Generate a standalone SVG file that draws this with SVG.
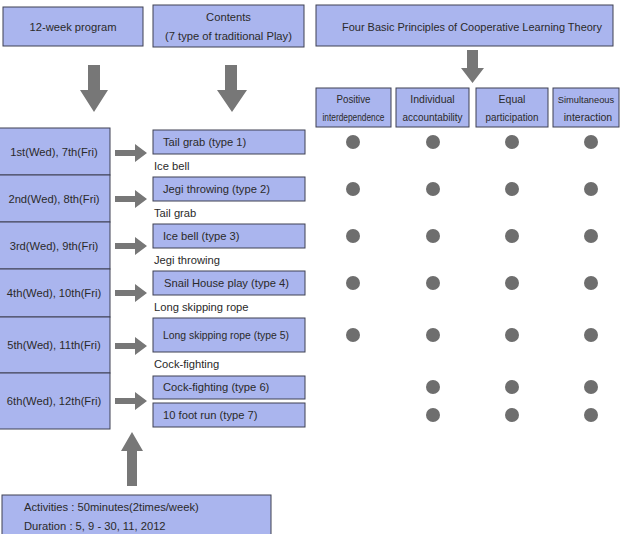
<svg xmlns="http://www.w3.org/2000/svg" width="620" height="534" viewBox="0 0 620 534">
<defs>
<style>
.box{fill:#aab5ee;stroke:#3f4152;stroke-width:1}
.t{font-family:"Liberation Sans",Arial,sans-serif;font-size:11.2px;fill:#2a2a2a}
.s{font-family:"Liberation Sans",Arial,sans-serif;font-size:10.5px;fill:#2a2a2a}
.c{text-anchor:middle}
.arr{fill:#777777}
.dot{fill:#6e6e6e}
</style>
</defs>
<rect width="620" height="534" fill="#ffffff"/>

<g id="program"><rect class="box" x="3" y="7" width="140" height="39"/><text class="t c" x="73" y="31">12-week program</text></g>
<g id="contents"><rect class="box" x="153" y="5" width="151" height="42"/><text class="t c" x="228.5" y="21">Contents</text><text class="t c" x="228.5" y="40">(7 type of traditional Play)</text></g>
<g id="principles"><rect class="box" x="316" y="5" width="297" height="41"/><text class="t c" x="472" y="31" textLength="260" lengthAdjust="spacingAndGlyphs">Four Basic Principles of Cooperative Learning Theory</text></g>

<g id="p1"><rect class="box" x="316" y="88" width="75" height="39"/><text class="s c" x="353.5" y="103" textLength="34" lengthAdjust="spacingAndGlyphs">Positive</text><text class="s c" x="353.5" y="121" textLength="62" lengthAdjust="spacingAndGlyphs">interdependence</text></g>
<g id="p2"><rect class="box" x="396" y="88" width="73" height="39"/><text class="s c" x="432.5" y="103">Individual</text><text class="s c" x="432.5" y="121" textLength="60" lengthAdjust="spacingAndGlyphs">accountability</text></g>
<g id="p3"><rect class="box" x="476" y="88" width="72" height="39"/><text class="s c" x="512" y="103">Equal</text><text class="s c" x="512" y="121" textLength="53" lengthAdjust="spacingAndGlyphs">participation</text></g>
<g id="p4"><rect class="box" x="553" y="88" width="66" height="39"/><text class="s c" x="586" y="103" style="font-size:9.3px">Simultaneous</text><text class="s c" x="588" y="121">interaction</text></g>

<g id="w1"><rect class="box" x="-1" y="128" width="111" height="47"/><text class="t c" x="54" y="156">1st(Wed), 7th(Fri)</text></g>
<g id="w2"><rect class="box" x="-1" y="175" width="111" height="47"/><text class="t c" x="54" y="203">2nd(Wed), 8th(Fri)</text></g>
<g id="w3"><rect class="box" x="-1" y="222" width="111" height="47"/><text class="t c" x="54" y="250">3rd(Wed), 9th(Fri)</text></g>
<g id="w4"><rect class="box" x="-1" y="269" width="111" height="48"/><text class="t c" x="54" y="297">4th(Wed), 10th(Fri)</text></g>
<g id="w5"><rect class="box" x="-1" y="317" width="111" height="56"/><text class="t c" x="54" y="349">5th(Wed), 11th(Fri)</text></g>
<g id="w6"><rect class="box" x="-1" y="373" width="111" height="56"/><text class="t c" x="54" y="405">6th(Wed), 12th(Fri)</text></g>

<g id="c1"><rect class="box" x="153" y="130" width="152" height="24"/><text class="t" x="163" y="146">Tail grab (type 1)</text></g>
<g id="c2"><rect class="box" x="153" y="177" width="152" height="24"/><text class="t" x="163" y="193">Jegi throwing (type 2)</text></g>
<g id="c3"><rect class="box" x="153" y="224" width="152" height="24"/><text class="t" x="163" y="240">Ice bell (type 3)</text></g>
<g id="c4"><rect class="box" x="153" y="271" width="152" height="24"/><text class="t" x="164" y="287">Snail House play (type 4)</text></g>
<g id="c5"><rect class="box" x="153" y="318" width="152" height="34"/><text class="t" x="163" y="339" textLength="126" lengthAdjust="spacingAndGlyphs">Long skipping rope (type 5)</text></g>
<g id="c6"><rect class="box" x="153" y="376" width="152" height="23"/><text class="t" x="163" y="391">Cock-fighting (type 6)</text></g>
<g id="c7"><rect class="box" x="153" y="403" width="152" height="24"/><text class="t" x="163" y="419">10 foot run (type 7)</text></g>

<g id="labels">
<text class="t" x="154" y="170">Ice bell</text>
<text class="t" x="154" y="217">Tail grab</text>
<text class="t" x="154" y="264">Jegi throwing</text>
<text class="t" x="154" y="311">Long skipping rope</text>
<text class="t" x="154" y="368">Cock-fighting</text>
</g>

<g id="info"><rect class="box" x="2" y="495" width="269" height="45"/><text class="t" x="24" y="511">Activities : 50minutes(2times/week)</text><text class="t" x="24" y="530">Duration : 5, 9 - 30, 11, 2012</text></g>

<g id="connectors">
<polygon class="arr" points="88,65 100,65 100,90 108,90 94,112 80,90 88,90"/>
<polygon class="arr" points="225,65 237,65 237,90 247,90 232,112 217,90 225,90"/>
<polygon class="arr" points="467,50 478,50 478,68 484,68 472.5,83 461,68 467,68"/>
<polygon class="arr" points="127,486 137,486 137,451 143,451 132,432 121,451 127,451"/>
<polygon class="arr" points="115,150 135,150 135,144 147,153 135,162 135,156 115,156"/>
<polygon class="arr" points="115,196 135,196 135,190 147,199 135,208 135,202 115,202"/>
<polygon class="arr" points="115,243 135,243 135,237 147,246 135,255 135,249 115,249"/>
<polygon class="arr" points="115,290 135,290 135,284 147,293 135,302 135,296 115,296"/>
<polygon class="arr" points="115,343 135,343 135,337 147,346 135,355 135,349 115,349"/>
<polygon class="arr" points="115,398 135,398 135,392 147,401 135,410 135,404 115,404"/>
</g>

<g id="dots">
<circle class="dot" cx="353" cy="142" r="7"/><circle class="dot" cx="433" cy="142" r="7"/><circle class="dot" cx="512" cy="142" r="7"/><circle class="dot" cx="591" cy="142" r="7"/>
<circle class="dot" cx="353" cy="189" r="7"/><circle class="dot" cx="433" cy="189" r="7"/><circle class="dot" cx="512" cy="189" r="7"/><circle class="dot" cx="591" cy="189" r="7"/>
<circle class="dot" cx="353" cy="236" r="7"/><circle class="dot" cx="433" cy="236" r="7"/><circle class="dot" cx="512" cy="236" r="7"/><circle class="dot" cx="591" cy="236" r="7"/>
<circle class="dot" cx="353" cy="283" r="7"/><circle class="dot" cx="433" cy="283" r="7"/><circle class="dot" cx="512" cy="283" r="7"/><circle class="dot" cx="591" cy="283" r="7"/>
<circle class="dot" cx="353" cy="335" r="7"/><circle class="dot" cx="433" cy="335" r="7"/><circle class="dot" cx="512" cy="335" r="7"/><circle class="dot" cx="591" cy="335" r="7"/>
<circle class="dot" cx="433" cy="387" r="7"/><circle class="dot" cx="512" cy="387" r="7"/><circle class="dot" cx="591" cy="387" r="7"/>
<circle class="dot" cx="433" cy="415" r="7"/><circle class="dot" cx="512" cy="415" r="7"/><circle class="dot" cx="591" cy="415" r="7"/>
</g>
</svg>
